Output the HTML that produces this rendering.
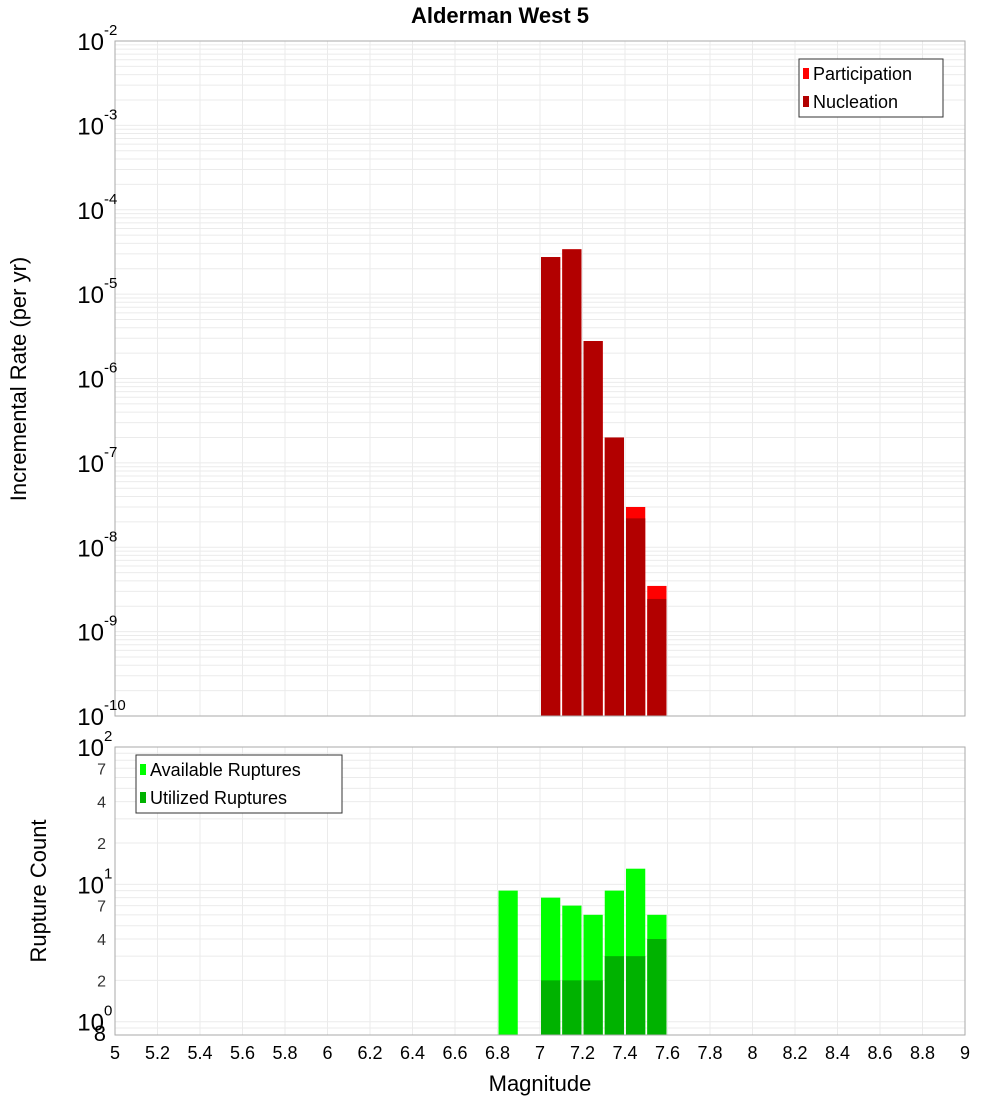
<!DOCTYPE html>
<html><head><meta charset="utf-8"><style>
body{margin:0;background:#fff;}
svg{display:block;font-family:"Liberation Sans","DejaVu Sans",sans-serif;}
</style></head><body>
<svg id="c" width="1000" height="1100"></svg>
<script>
const binStarts=[6.8,7.0,7.1,7.2,7.3,7.4,7.5];
const participation=[0,2.75e-5,3.4e-5,2.78e-6,2.0e-7,3.0e-8,3.48e-9];
const nucleation=[0,2.75e-5,3.4e-5,2.78e-6,2.0e-7,2.2e-8,2.44e-9];
const available=[9,8,7,6,9,13,6];
const utilized=[0,2,2,2,3,3,4];
const xTicks=[5,5.2,5.4,5.6,5.8,6,6.2,6.4,6.6,6.8,7,7.2,7.4,7.6,7.8,8,8.2,8.4,8.6,8.8,9];
const topExps=[-2,-3,-4,-5,-6,-7,-8,-9,-10];
const botTickVals=[70,40,20,7,4,2,0.8];
const botTickLabels=["7","4","2","7","4","2","8"];

const NS="http://www.w3.org/2000/svg";
const svg=document.getElementById('c');
function el(t,a,p){const e=document.createElementNS(NS,t);for(const k in a)e.setAttribute(k,a[k]);(p||svg).appendChild(e);return e;}
const L=115,R=965;
const x=v=>L+(v-5)/4*(R-L);
const T1=41,B1=716;
const yT=v=>T1+(-2-Math.log10(v))/8*(B1-T1);
const T2=747,B2=1035;
const yB=v=>T2+(2-Math.log10(v))/Math.log10(100/0.8)*(B2-T2);

// grids
const g=el('g',{});
for(let e=-10;e<-2;e++)for(let m=1;m<10;m++){const yy=yT(m*Math.pow(10,e));el('line',{x1:L,x2:R,y1:yy,y2:yy,stroke:'#ebebeb','stroke-width':1},g);}
for(let e=-1;e<2;e++)for(let m=1;m<10;m++){const v=m*Math.pow(10,e);if(v<0.8||v>100)continue;const yy=yB(v);el('line',{x1:L,x2:R,y1:yy,y2:yy,stroke:'#ebebeb','stroke-width':1},g);}
xTicks.forEach(t=>{el('line',{x1:x(t),x2:x(t),y1:T1,y2:B1,stroke:'#ebebeb'},g);el('line',{x1:x(t),x2:x(t),y1:T2,y2:B2,stroke:'#ebebeb'},g);});

// top bars
binStarts.forEach((s,i)=>{
 const x0=x(s)+1,w=x(s+0.1)-x(s)-2;
 if(participation[i]>0){const r=el('rect',{x:x0,y:yT(participation[i]),width:w,height:B1-yT(participation[i]),fill:'#ff0000'});
 }
 if(nucleation[i]>0){const r=el('rect',{x:x0,y:yT(nucleation[i]),width:w,height:B1-yT(nucleation[i]),fill:'#b20000'});
 }
 if(available[i]>0){const r=el('rect',{x:x0,y:yB(available[i]),width:w,height:B2-yB(available[i]),fill:'#00ff00'});
 }
 if(utilized[i]>0){const r=el('rect',{x:x0,y:yB(utilized[i]),width:w,height:B2-yB(utilized[i]),fill:'#00b200'});
 }
});
el('rect',{x:L,y:T1,width:R-L,height:B1-T1,fill:'none',stroke:'#aaa'});
el('rect',{x:L,y:T2,width:R-L,height:B2-T2,fill:'none',stroke:'#aaa'});

// top y labels
topExps.forEach(e=>{
 const yy=yT(Math.pow(10,e));
 const t=el('text',{x:104,y:yy+9,'font-size':24,'text-anchor':'end',fill:'#000'});
 
 t.textContent='10';
 const s=el('text',{x:104,y:yy-6,'font-size':15,fill:'#000'});s.textContent=String(e);
 
});
// bottom y labels
[[100,'2'],[10,'1'],[1,'0']].forEach(([v,e])=>{
 const yy=yB(v);
 const t=el('text',{x:104,y:yy+9,'font-size':24,'text-anchor':'end'});t.textContent='10';
 
 const s=el('text',{x:104,y:yy-6,'font-size':15});s.textContent=e;
 
});
botTickVals.forEach((v,i)=>{
 const t=el('text',{x:106,y:yB(v)+(v===0.8?6:6),'font-size':v===0.8?22:16,'text-anchor':'end',fill:v===0.8?'#000':'#333'});
 t.textContent=botTickLabels[i];
 
});
xTicks.forEach(tk=>{
 const t=el('text',{x:x(tk),y:1059,'font-size':18,'text-anchor':'middle'});t.textContent=String(tk);
 
});
function txt(s,a,name){const t=el('text',a);t.textContent=s;return t;}
txt('Alderman West 5',{x:500,y:23,'font-size':22,'font-weight':'bold','text-anchor':'middle'},'chart-title');
txt('Magnitude',{x:540,y:1091,'font-size':22,'text-anchor':'middle'},'x-axis-title');
txt('Incremental Rate (per yr)',{x:0,y:0,'font-size':22,'text-anchor':'middle',transform:'translate(26,379) rotate(-90)'},'y-axis-title-top');
txt('Rupture Count',{x:0,y:0,'font-size':22,'text-anchor':'middle',transform:'translate(46,891) rotate(-90)'},'y-axis-title-bottom');

// legends
function legend(x0,y0,w,items,name){
 const gg=el('g',{});
 el('rect',{x:x0,y:y0,width:w,height:58,fill:'#fff',stroke:'#333'},gg);
 items.forEach(([c,l],i)=>{
  el('rect',{x:x0+4,y:y0+9+i*28,width:6,height:11,fill:c},gg);
  const t=el('text',{x:x0+14,y:y0+21+i*28,'font-size':18},gg);t.textContent=l;
  
 });
}
legend(799,59,144,[['#ff0000','Participation'],['#b20000','Nucleation']],'legend-top');
legend(136,755,206,[['#00ff00','Available Ruptures'],['#00b200','Utilized Ruptures']],'legend-bottom');
</script>
</body></html>
